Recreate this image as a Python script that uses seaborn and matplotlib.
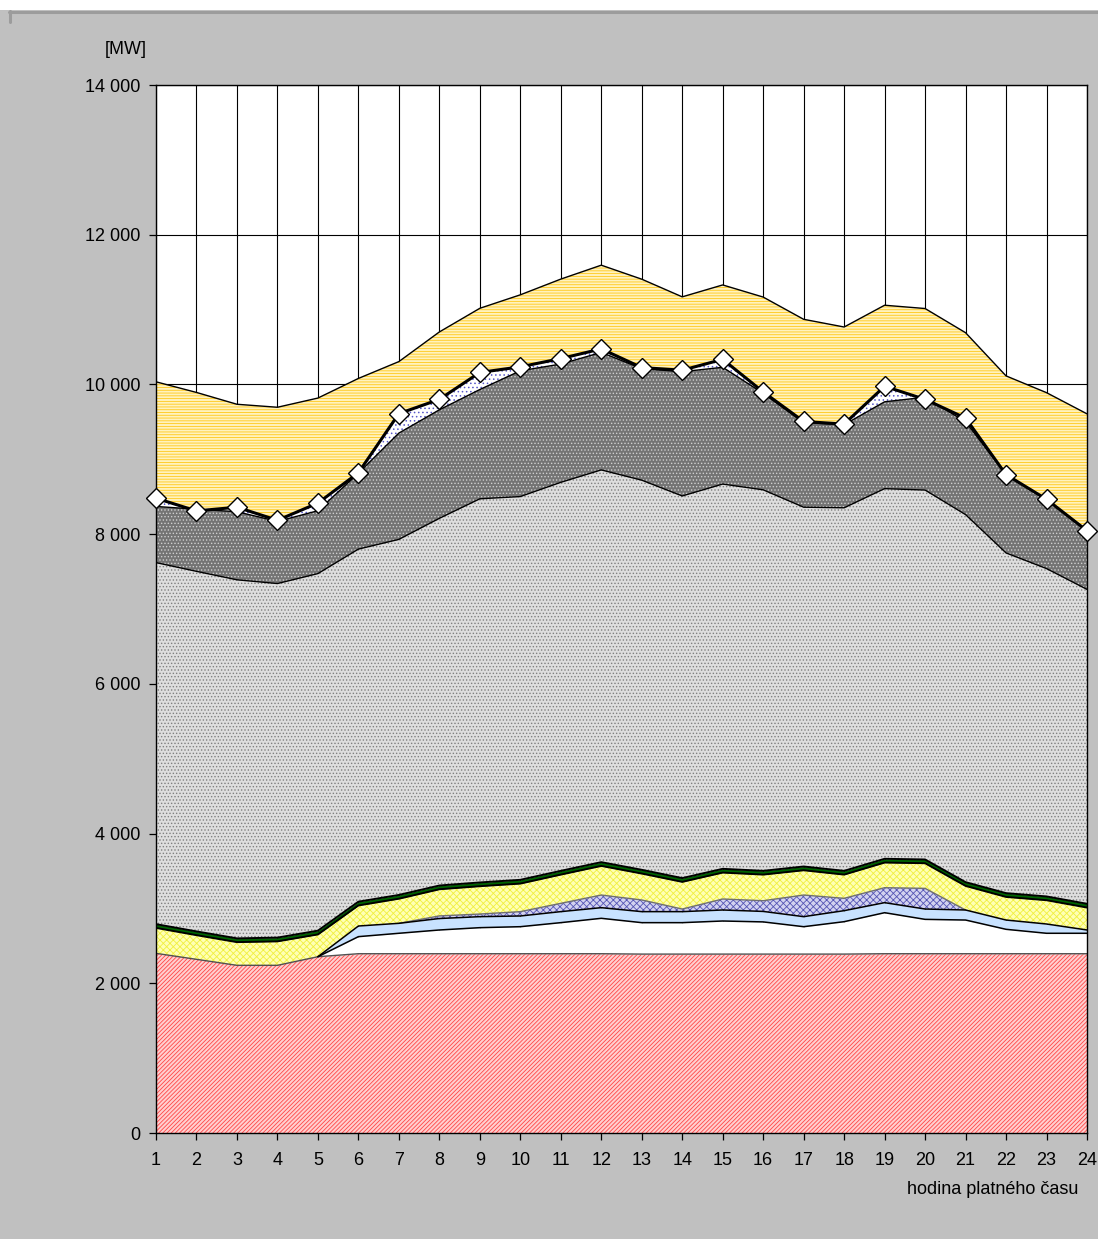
import numpy as np
import pandas as pd
import matplotlib
matplotlib.use("Agg")
import matplotlib.pyplot as plt
from matplotlib.lines import Line2D
from matplotlib.patches import Rectangle
from matplotlib.ticker import FuncFormatter
import seaborn as sns

# hourly values [MW], one list per stacked band (bottom to top)
hours = list(range(1, 25))
red_base = [2400, 2320, 2240, 2240, 2355, 2395, 2395, 2395, 2395, 2395, 2395, 2395,
            2390, 2390, 2390, 2390, 2390, 2390, 2395, 2395, 2395, 2395, 2395, 2395]
white_band = [0, 0, 0, 0, 0, 228, 273, 317, 348, 361, 415, 473,
              420, 420, 442, 430, 366, 433, 548, 459, 450, 326, 273, 273]
light_blue_band = [0, 0, 0, 0, 0, 142, 133, 153, 147, 143, 147, 142,
                   147, 147, 147, 140, 134, 147, 134, 138, 134, 124, 124, 44]
crosshatch_band = [0, 0, 0, 0, 0, 0, 0, 35, 35, 58, 111, 169,
                   156, 35, 147, 143, 289, 165, 200, 276, 0, 0, 0, 0]
yellow_band = [340, 323, 310, 320, 298, 275, 329, 356, 372, 375, 384, 389,
               353, 363, 353, 349, 331, 317, 336, 336, 322, 309, 318, 300]
green_band = [50, 50, 50, 50, 50, 50, 50, 50, 50, 50, 50, 50,
              50, 50, 50, 50, 50, 50, 50, 50, 50, 50, 50, 50]
light_gray_band = [4830, 4810, 4790, 4730, 4770, 4710, 4750, 4905, 5125, 5120, 5190, 5240,
                   5205, 5105, 5140, 5090, 4800, 4850, 4945, 4935, 4910, 4545, 4380, 4200]
dark_gray_band = [750, 830, 910, 830, 840, 1015, 1420, 1450, 1460, 1680, 1580, 1570,
                  1490, 1660, 1560, 1290, 1130, 1110, 1160, 1240, 1240, 1050, 920, 790]
dotted_band = [110, 0, 60, 15, 105, 5, 260, 140, 230, 55, 75, 45,
               15, 20, 105, 20, 15, 10, 205, 0, 50, 0, 5, 0]
striped_band = [1555, 1560, 1375, 1510, 1400, 1260, 695, 900, 855, 960, 1060, 1120,
                1180, 980, 995, 1265, 1365, 1295, 1085, 1185, 1140, 1315, 1425, 1555]
load = [8480, 8310, 8360, 8185, 8415, 8820, 9610, 9800, 10160, 10235, 10345, 10475,
        10225, 10190, 10335, 9900, 9505, 9470, 9975, 9800, 9550, 8795, 8465, 8045]

y_ticks = [0, 2000, 4000, 6000, 8000, 10000, 12000, 14000]

sns.set_theme(style="ticks")
plt.rcParams['font.family'] = ['Liberation Sans', 'DejaVu Sans']
plt.rcParams['hatch.linewidth'] = 0.6

W, H = 1098, 1239
fig = plt.figure(figsize=(W / 100, H / 100), dpi=100, facecolor='#C0C0C0')
ax = fig.add_axes([156 / W, 1 - 1133 / H, (1087 - 156) / W, (1133 - 85) / H])
ax.set_facecolor('white')

# (values, face colour, hatch, hatch colour)
bands = [
    (red_base, '#FFCFCF', '////////', '#FF4646'),
    (white_band, 'white', None, 'white'),
    (light_blue_band, '#C8E2FF', None, '#C8E2FF'),
    (crosshatch_band, '#D2D2F0', 'xxxxx', '#5555B4'),
    (yellow_band, '#FFFFB4', 'xxxxx', '#F0F040'),
    (green_band, '#006400', None, '#006400'),
    (light_gray_band, '#DEDEDE', '.....', '#808080'),
    (dark_gray_band, '#747474', '.....', '#D0D0D0'),
    (dotted_band, 'white', '....', '#5858C8'),
    (striped_band, '#FFF2BE', '------', '#FFC818'),
]

x = np.asarray(hours)
base = np.zeros(len(hours))
tops = []
for vals, face, hatch, hcol in bands:
    top = base + np.asarray(vals, dtype=float)
    ax.fill_between(x, base, top, facecolor=face, hatch=hatch, edgecolor=hcol,
                    linewidth=0, zorder=2)
    tops.append(top)
    base = top

(t_red, t_white, t_lblue, t_cross, t_yellow, t_green,
 t_lgray, t_dgray, t_dot, t_stripe) = tops

# band outlines
ax.plot(x, t_red, color='#505050', lw=1.0, zorder=3)
ax.plot(x[6:21], t_cross[6:21], color='#707070', lw=1.0, zorder=3)
ax.plot(x[4:], t_white[4:], color='black', lw=1.1, zorder=3)
ax.plot(x[4:], t_lblue[4:], color='black', lw=1.1, zorder=3)
ax.plot(x, t_yellow, color='black', lw=1.4, zorder=3)
ax.plot(x, t_green, color='black', lw=1.4, zorder=3)
ax.plot(x, t_lgray, color='black', lw=1.0, zorder=3)
ax.plot(x, t_dgray, color='black', lw=1.0, zorder=3)
ax.plot(x, t_stripe, color='black', lw=1.0, zorder=3)

# load curve with diamond markers
df_load = pd.DataFrame({'hodina': hours, 'zatizeni': load})
sns.lineplot(data=df_load, x='hodina', y='zatizeni', ax=ax, color='black', lw=2.2,
             marker='D', markersize=10, markerfacecolor='white',
             markeredgecolor='black', markeredgewidth=1.0, zorder=12, clip_on=False)

ax.set_xlim(1, 24)
ax.set_ylim(0, 14000)
ax.set_xticks(hours)
ax.set_yticks(y_ticks)
ax.yaxis.set_major_formatter(FuncFormatter(lambda v, p: f"{int(v):,}".replace(",", " ")))
ax.set_axisbelow(True)
ax.grid(True, color='black', lw=0.8)
ax.set_xlabel('')
ax.set_ylabel('')
ax.tick_params(axis='both', direction='out', length=5, width=0.9, color='black',
               labelsize=13, labelcolor='black', bottom=True, left=True)
ax.tick_params(axis='y', pad=6)
ax.tick_params(axis='x', pad=9)
for s in ax.spines.values():
    s.set_visible(True)
    s.set_color('black')
    s.set_linewidth(1.0)
    s.set_zorder(10)

fig.text(126 / W, 1 - 49 / H, '[MW]', ha='center', va='center', fontsize=13, color='black')
fig.text(1078 / W, 1 - 1189 / H, 'hodina platného času', ha='right', va='center',
         fontsize=13, color='black')

# outer frame strip
fig.add_artist(Rectangle((0, 1 - 10 / H), 1, 10 / H, transform=fig.transFigure,
                         facecolor='white', edgecolor='none', zorder=1))
fig.add_artist(Line2D([9 / W, 1], [1 - 11.5 / H, 1 - 11.5 / H], transform=fig.transFigure,
                      color='#9C9C9C', lw=2.2, zorder=2))
fig.add_artist(Line2D([10 / W, 10 / W], [1 - 11 / H, 1 - 22 / H], transform=fig.transFigure,
                      color='#9C9C9C', lw=2.2, zorder=2))

fig.savefig('out.png', dpi=100, facecolor=fig.get_facecolor())
